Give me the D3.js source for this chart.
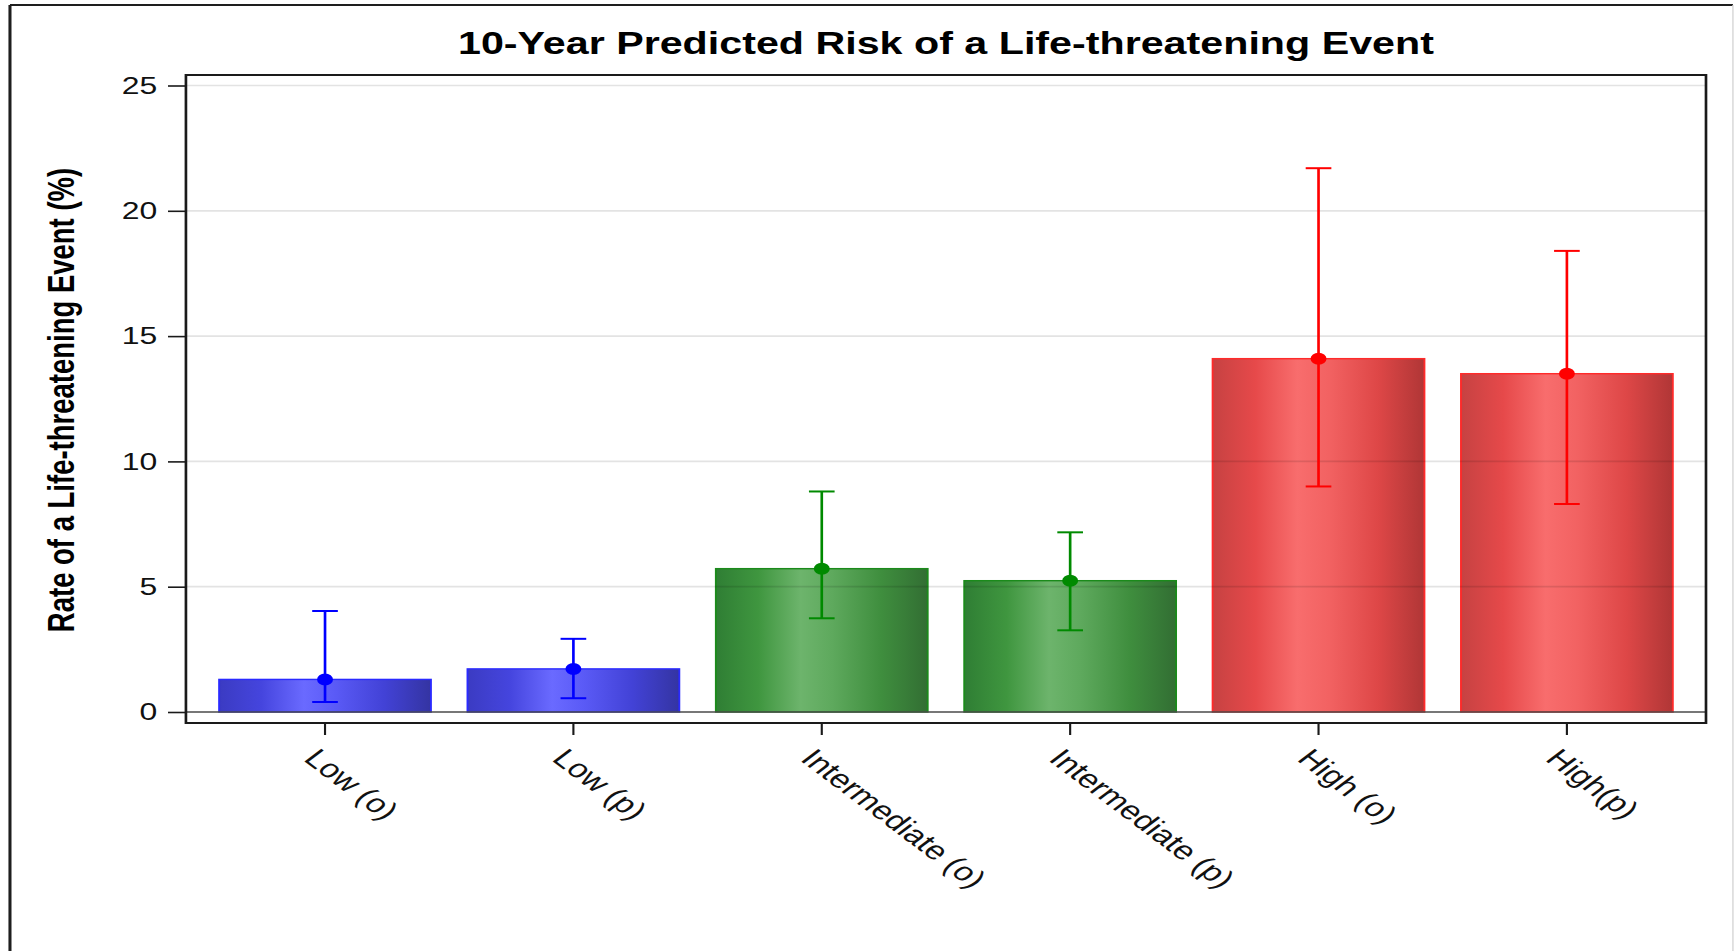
<!DOCTYPE html>
<html>
<head>
<meta charset="utf-8">
<script src="https://cdn.jsdelivr.net/npm/d3@7"></script>
<style>
  html, body { margin: 0; padding: 0; background: #fff; }
  svg { display: block; }
</style>
</head>
<body>
<svg id="chart" width="1734" height="951"></svg>
<script>
// ---- data ----
const categories = ["Low (o)", "Low (p)", "Intermediate (o)", "Intermediate (p)", "High (o)", "High(p)"];
const riskLevel  = ["low", "low", "intermediate", "intermediate", "high", "high"];
const estimates  = [1.3, 1.72, 5.72, 5.24, 14.1, 13.5];
const lowerCI    = [0.4, 0.55, 3.74, 3.26, 9.0, 8.3];
const upperCI    = [4.03, 2.92, 8.8, 7.17, 21.7, 18.4];
const yTickValues = [0, 5, 10, 15, 20, 25];
const titleText  = "10-Year Predicted Risk of a Life-threatening Event";
const yAxisTitle = "Rate of a Life-threatening Event (%)";

// ---- layout ----
const W = 1734, H = 951;
const xStretch = 1.33;               // figure is rendered horizontally widened
const innerW = W / xStretch;
const frame = { left: 139.8, right: 1282.7, top: 75, bottom: 723 };
const FONT = "'Liberation Sans', Arial, Helvetica, sans-serif";

const palette = {
  low: {
    stops: [[0, "#3b3bc2"], [0.2, "#4545de"], [0.4, "#6a6aff"], [0.55, "#5a5af6"], [0.78, "#4242d6"], [1, "#3434a2"]],
    edge: "#2a2aff", err: "#0000ff"
  },
  intermediate: {
    stops: [[0, "#2f7e34"], [0.2, "#3f963f"], [0.4, "#6db46c"], [0.55, "#5ea95d"], [0.78, "#3f8e3e"], [1, "#326e33"]],
    edge: "#1b8a1b", err: "#008a00"
  },
  high: {
    stops: [[0, "#c64242"], [0.2, "#e6494a"], [0.4, "#f86d6d"], [0.55, "#f26262"], [0.78, "#de4747"], [1, "#b03636"]],
    edge: "#ff2a2a", err: "#ff0000"
  }
};

const svg = d3.select("#chart");

// gradients for the shaded bars
const defs = svg.append("defs");
Object.entries(palette).forEach(([key, p]) => {
  const g = defs.append("linearGradient")
    .attr("id", "grad-" + key)
    .attr("x1", 0).attr("x2", 1).attr("y1", 0).attr("y2", 0);
  p.stops.forEach(([o, c]) => g.append("stop").attr("offset", o).attr("stop-color", c));
});

const root = svg.append("g").attr("transform", `scale(${xStretch},1)`);

// outer border
root.append("line").attr("x1", 7.5).attr("x2", innerW - 0.8).attr("y1", 5).attr("y2", 5)
  .attr("stroke", "#1e1e1e").attr("stroke-width", 2);
root.append("line").attr("x1", 7.5).attr("x2", 7.5).attr("y1", 5).attr("y2", H)
  .attr("stroke", "#1e1e1e").attr("stroke-width", 2.3);
root.append("line").attr("x1", innerW - 0.8).attr("x2", innerW - 0.8).attr("y1", 5).attr("y2", H)
  .attr("stroke", "#d4d4d4").attr("stroke-width", 1);

// scales
const x = d3.scaleBand()
  .domain(categories)
  .range([frame.left, frame.right])
  .paddingInner(0)
  .paddingOuter(0.06);
const y = d3.scaleLinear().domain([0, 25]).range([712, 85.5]);

const bw = x.bandwidth();
const barW = bw * 0.853;
const capW = 19.3;

// title
root.append("text")
  .attr("x", (frame.left + frame.right) / 2)
  .attr("y", 54)
  .attr("text-anchor", "middle")
  .attr("font-family", FONT)
  .attr("font-weight", "bold")
  .attr("font-size", 31)
  .attr("fill", "#000")
  .text(titleText);

// y axis title
root.append("text")
  .attr("transform", "translate(56,400) rotate(-90)")
  .attr("text-anchor", "middle")
  .attr("font-family", FONT)
  .attr("font-weight", "bold")
  .attr("font-size", 27.5)
  .attr("fill", "#000")
  .text(yAxisTitle);

// bars
const rows = categories.map((c, i) => ({
  cat: c, level: riskLevel[i], est: estimates[i], lo: lowerCI[i], hi: upperCI[i]
}));

root.append("g").selectAll("rect")
  .data(rows)
  .join("rect")
  .attr("x", d => x(d.cat) + (bw - barW) / 2)
  .attr("width", barW)
  .attr("y", d => y(d.est))
  .attr("height", d => y(0) - y(d.est))
  .attr("fill", d => `url(#grad-${d.level})`)
  .attr("stroke", d => palette[d.level].edge)
  .attr("stroke-width", 1.4);

// gridlines (light, laid over the bars)
root.append("g").selectAll("line")
  .data(yTickValues.filter(v => v > 0))
  .join("line")
  .attr("x1", frame.left).attr("x2", frame.right)
  .attr("y1", d => y(d)).attr("y2", d => y(d))
  .attr("stroke", "#000").attr("stroke-opacity", 0.11).attr("stroke-width", 1.7);

// zero baseline
root.append("line")
  .attr("x1", frame.left).attr("x2", frame.right)
  .attr("y1", y(0)).attr("y2", y(0))
  .attr("stroke", "#4a4a4a").attr("stroke-width", 1.7);

// error bars with point estimates
const eb = root.append("g").selectAll("g")
  .data(rows)
  .join("g")
  .attr("stroke", d => palette[d.level].err)
  .attr("fill", d => palette[d.level].err);
const cx = d => x(d.cat) + bw / 2;
eb.append("line")
  .attr("x1", cx).attr("x2", cx)
  .attr("y1", d => y(d.lo)).attr("y2", d => y(d.hi))
  .attr("stroke-width", 2);
eb.append("line")
  .attr("x1", d => cx(d) - capW / 2).attr("x2", d => cx(d) + capW / 2)
  .attr("y1", d => y(d.hi)).attr("y2", d => y(d.hi))
  .attr("stroke-width", 2);
eb.append("line")
  .attr("x1", d => cx(d) - capW / 2).attr("x2", d => cx(d) + capW / 2)
  .attr("y1", d => y(d.lo)).attr("y2", d => y(d.lo))
  .attr("stroke-width", 2);
eb.append("circle")
  .attr("cx", cx).attr("cy", d => y(d.est))
  .attr("r", 6).attr("stroke", "none");

// plot frame
root.append("rect")
  .attr("x", frame.left).attr("y", frame.top)
  .attr("width", frame.right - frame.left)
  .attr("height", frame.bottom - frame.top)
  .attr("fill", "none").attr("stroke", "#1a1a1a").attr("stroke-width", 2);

// y axis
const yAxis = root.append("g")
  .attr("transform", `translate(${frame.left},0)`)
  .call(d3.axisLeft(y).tickValues(yTickValues).tickSize(13.5).tickPadding(8));
yAxis.select(".domain").remove();
yAxis.selectAll(".tick line").attr("stroke", "#1a1a1a").attr("stroke-width", 1.6);
yAxis.selectAll(".tick text")
  .attr("font-family", FONT).attr("font-size", 24).attr("fill", "#111");

// x axis
const xAxis = root.append("g")
  .attr("transform", `translate(0,${frame.bottom})`)
  .call(d3.axisBottom(x).tickSize(12).tickSizeOuter(0));
xAxis.select(".domain").remove();
xAxis.selectAll(".tick line").attr("stroke", "#1a1a1a").attr("stroke-width", 1.6);
xAxis.selectAll(".tick text")
  .attr("x", null).attr("y", null).attr("dy", null)
  .attr("transform", "translate(-17,37) rotate(45)")
  .attr("text-anchor", "start")
  .attr("font-family", FONT).attr("font-size", 26).attr("fill", "#111");
</script>
</body>
</html>
